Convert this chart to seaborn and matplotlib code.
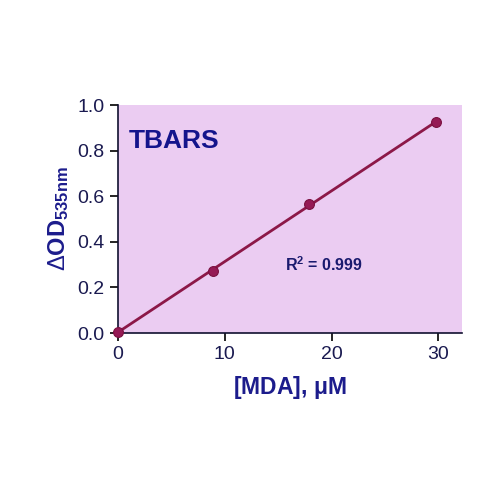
import numpy as np
import pandas as pd
import matplotlib
matplotlib.use('Agg')
import matplotlib.pyplot as plt
import seaborn as sns

# Standard curve values
mda_um = [0.0, 8.9, 17.9, 29.8]
delta_od = [0.005, 0.272, 0.567, 0.925]
x_ticks = [0, 10, 20, 30]
y_ticks = [0.0, 0.2, 0.4, 0.6, 0.8, 1.0]

df = pd.DataFrame({'mda': mda_um, 'od': delta_od})

sns.set_style('ticks')
plt.rcParams['font.family'] = ['Liberation Sans', 'DejaVu Sans']
plt.rcParams['mathtext.fontset'] = 'custom'
plt.rcParams['mathtext.rm'] = 'Liberation Sans'
plt.rcParams['mathtext.bf'] = 'Liberation Sans:bold'
plt.rcParams['mathtext.it'] = 'Liberation Sans:italic'

navy = '#1c1c8c'
tick_col = '#1a1a50'
line_col = '#8c1848'
dot_col = '#951a55'

fig = plt.figure(figsize=(5, 5), dpi=100)
ax = fig.add_axes([0.236, 0.334, 0.688, 0.456])
ax.set_facecolor('#ebccf2')

sns.regplot(data=df, x='mda', y='od', ci=None, ax=ax,
            scatter_kws=dict(s=50, color=dot_col, alpha=1, zorder=3, edgecolor='#7a1040', linewidths=0.8),
            line_kws=dict(color=line_col, lw=2))

ax.set_xlim(0, 32.2)
ax.set_ylim(0, 1.0)
ax.set_xticks(x_ticks)
ax.set_yticks(y_ticks)
ax.set_yticklabels([f'{v:.1f}' for v in y_ticks])
ax.tick_params(labelsize=14, colors='black', labelcolor=tick_col, length=6, width=1.2)
for s in ['top', 'right']:
    ax.spines[s].set_visible(False)
for s in ['left', 'bottom']:
    ax.spines[s].set_linewidth(1.2)
    ax.spines[s].set_color('#101030')
for c in ax.collections:
    c.set_clip_on(False)

ax.set_xlabel(r'[MDA], $\mathbf{\mu}$M', fontsize=16.5, fontweight='bold', color=navy, labelpad=8)
ax.set_ylabel(r'$\Delta$OD$_{\mathbf{535nm}}$', fontsize=17, fontweight='bold', color=navy, labelpad=5)

ax.text(1.0, 0.84, 'TBARS', fontsize=19, fontweight='bold', color='#14148c', va='center')
ax.text(15.6, 0.3, r'R$^{\mathbf{2}}$ = 0.999', fontsize=11.5, fontweight='bold', color='#1a1a6e', va='center')

fig.savefig('out.png', dpi=100, facecolor='white')
